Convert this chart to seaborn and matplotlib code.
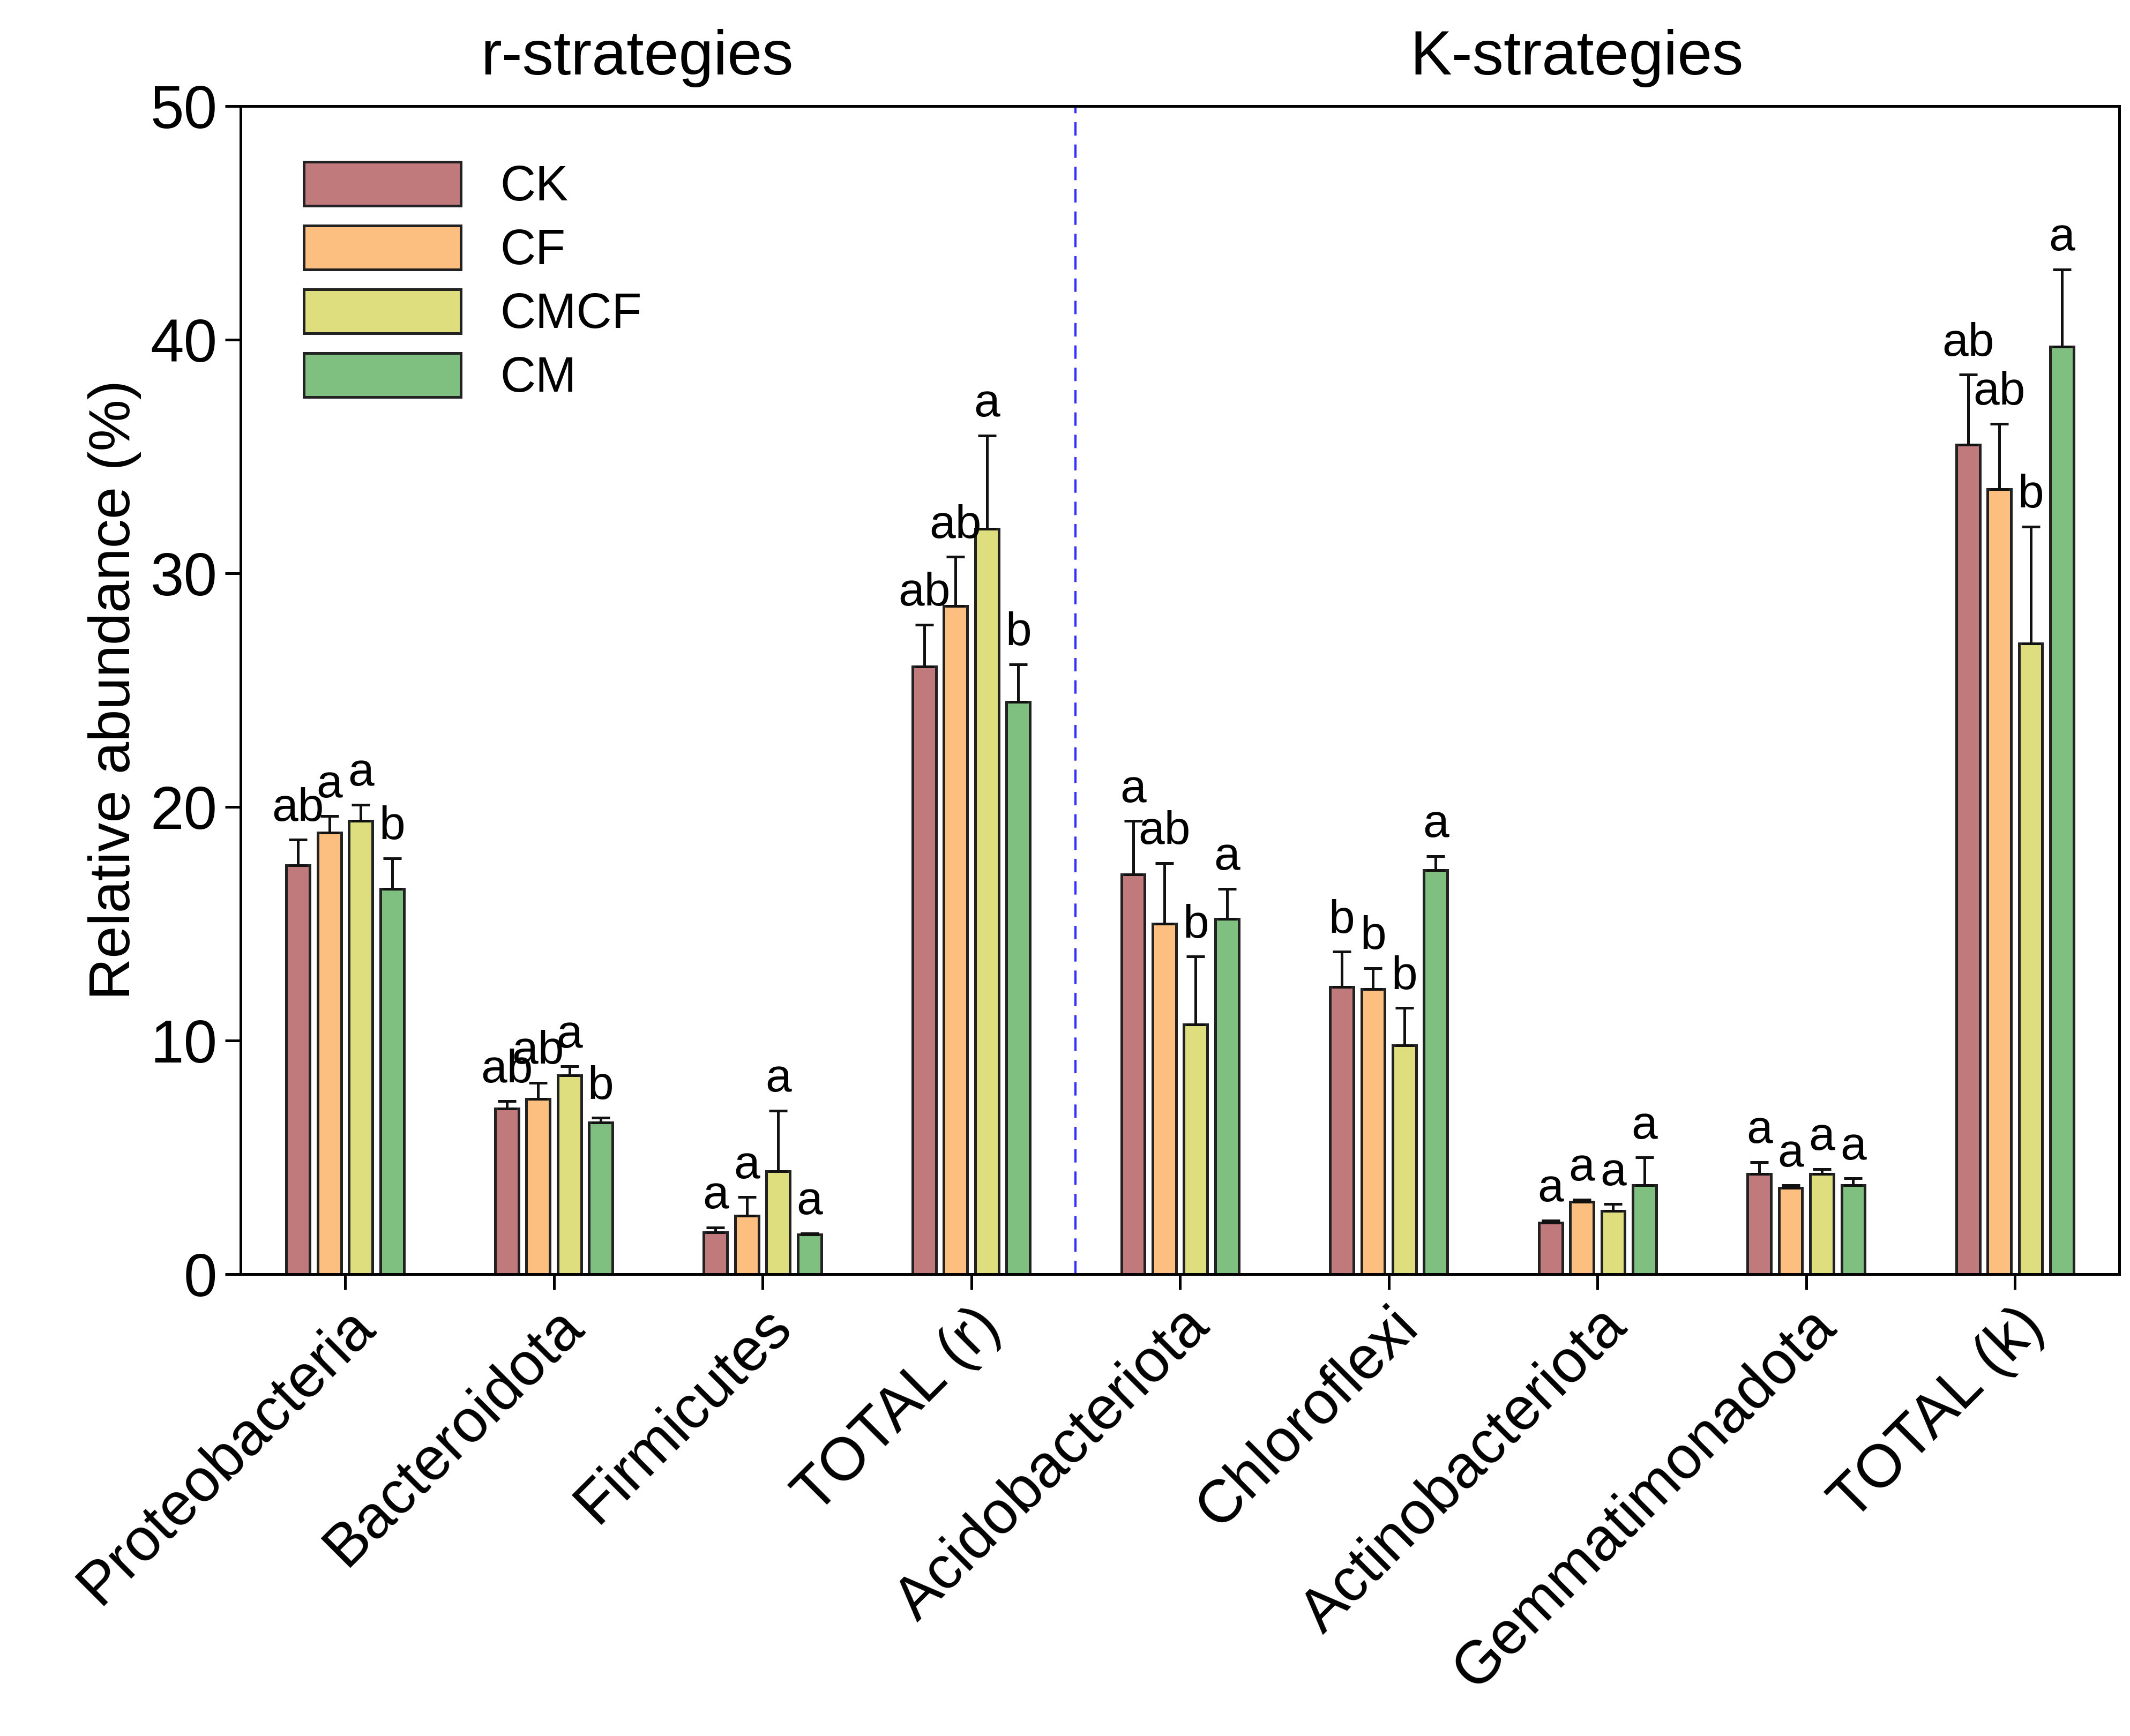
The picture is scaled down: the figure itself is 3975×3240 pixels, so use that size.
import matplotlib
matplotlib.use("Agg")
import matplotlib.pyplot as plt
import seaborn as sns
import pandas as pd
import numpy as np

categories = ["Proteobacteria", "Bacteroidota", "Firmicutes", "TOTAL (r)", "Acidobacteriota",
              "Chloroflexi", "Actinobacteriota", "Gemmatimonadota", "TOTAL (k)"]
treatments = ["CK", "CF", "CMCF", "CM"]
CK = [17.5, 7.1, 1.8, 26.0, 17.1, 12.3, 2.2, 4.3, 35.5]
CF = [18.9, 7.5, 2.5, 28.6, 15.0, 12.2, 3.1, 3.7, 33.6]
CMCF = [19.4, 8.5, 4.4, 31.9, 10.7, 9.8, 2.7, 4.3, 27.0]
CM = [16.5, 6.5, 1.7, 24.5, 15.2, 17.3, 3.8, 3.8, 39.7]
CK_err = [1.1, 0.3, 0.2, 1.8, 2.3, 1.5, 0.1, 0.5, 3.0]
CF_err = [0.7, 0.7, 0.8, 2.1, 2.6, 0.9, 0.1, 0.1, 2.8]
CMCF_err = [0.7, 0.4, 2.6, 4.0, 2.9, 1.6, 0.3, 0.2, 5.0]
CM_err = [1.3, 0.2, 0.05, 1.6, 1.3, 0.6, 1.2, 0.3, 3.3]
CK_sig = ["ab", "ab", "a", "ab", "a", "b", "a", "a", "ab"]
CF_sig = ["a", "ab", "a", "ab", "ab", "b", "a", "a", "ab"]
CMCF_sig = ["a", "a", "a", "a", "b", "b", "a", "a", "b"]
CM_sig = ["b", "b", "a", "b", "a", "a", "a", "a", "a"]
colors = ["#c07a7c", "#fdbf7f", "#dede7f", "#7fbf7f"]

vals = [CK, CF, CMCF, CM]
errs = [CK_err, CF_err, CMCF_err, CM_err]
sigs = [CK_sig, CF_sig, CMCF_sig, CM_sig]

rows = []
for t, v in zip(treatments, vals):
    for c, y in zip(categories, v):
        rows.append({"cat": c, "trt": t, "val": y})
df = pd.DataFrame(rows)

sns.set_style("ticks")
plt.rcParams["font.family"] = ["Liberation Sans", "DejaVu Sans"]
plt.rcParams["text.color"] = "black"
plt.rcParams["axes.labelcolor"] = "black"
plt.rcParams["xtick.color"] = "black"
plt.rcParams["ytick.color"] = "black"

fig = plt.figure(figsize=(13.25, 10.8), dpi=300)
ax = fig.add_axes([0.113, 0.266, 0.882, 0.673])
sns.barplot(data=df, x="cat", y="val", hue="trt", order=categories, hue_order=treatments,
            palette=colors, saturation=1, width=0.6, gap=0.25, errorbar=None,
            edgecolor="#222222", linewidth=1.2, ax=ax)

for i, t in enumerate(treatments):
    cont = ax.containers[i]
    xs = [p.get_x() + p.get_width() / 2 for p in cont.patches]
    ax.errorbar(xs, vals[i], yerr=[np.zeros(len(xs)), errs[i]], fmt="none",
                ecolor="#111111", elinewidth=1.2, capsize=4, capthick=1.2)
    for x, y, e, s in zip(xs, vals[i], errs[i], sigs[i]):
        ax.text(x, y + e + 0.4, s, ha="center", va="bottom", fontsize=21)

ax.set_xlim(-0.5, 8.5)
ax.set_ylim(0, 50)
ax.set_yticks([0, 10, 20, 30, 40, 50])
ax.axvline(3.5, color="#3030ff", ls=(0, (6, 4)), lw=1)
ax.set_xlabel("")
ax.set_ylabel("Relative abundance (%)", fontsize=26)
ax.tick_params(axis="both", labelsize=27, length=7, width=1.2, direction="out")
ax.set_xticks(range(len(categories)))
ax.set_xticklabels(categories, rotation=45, ha="right", rotation_mode="anchor")
for s in ax.spines.values():
    s.set_visible(True)
    s.set_linewidth(1.2)
    s.set_color("black")
ax.text(1.4, 50.8, "r-strategies", ha="center", va="bottom", fontsize=28)
ax.text(5.9, 50.8, "K-strategies", ha="center", va="bottom", fontsize=28)

ax.legend(loc="upper left", bbox_to_anchor=(0.01, 0.99), frameon=False, fontsize=22,
          handlelength=3.2, handleheight=1.0, labelspacing=0.3, title=None)

fig.savefig("out.png", dpi=300)
